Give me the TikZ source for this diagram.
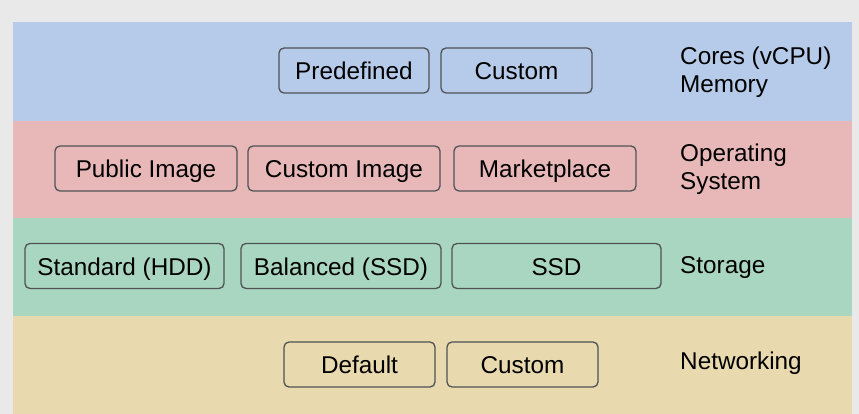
\documentclass[tikz,border=0pt]{standalone}
\usepackage{fontspec}
\setmainfont{Liberation Sans}
\definecolor{bgGray}{HTML}{E9E9E9}
\definecolor{bandBlue}{HTML}{B5CBE9}
\definecolor{bandRed}{HTML}{E8B8B8}
\definecolor{bandGreen}{HTML}{A9D6C0}
\definecolor{bandTan}{HTML}{E9D9AF}
\definecolor{edgeGray}{HTML}{4F5355}
\tikzset{
	opt/.style={draw=edgeGray, line width=1.3pt, rounded corners=5pt, minimum height=45pt, inner sep=0pt, text height=21pt, text depth=2.5pt, font=\fontsize{24.3}{28}\selectfont},
	lbl/.style={anchor=west, align=left, inner sep=0pt, font=\fontsize{24.3}{28}\selectfont},
}
\begin{document}
\begin{tikzpicture}[x=1pt, y=-1pt]
		\fill[bgGray] (0,0) rectangle (859,414);
		\useasboundingbox (0,0) rectangle (859,414);
		% bands
		\fill[bandBlue] (13,22) rectangle (852,121);
		\fill[bandRed] (13,121) rectangle (852,218);
		\fill[bandGreen] (13,218) rectangle (852,316);
		\fill[bandTan] (13,316) rectangle (852,414);
		% machine type
		\node[opt, minimum width=150pt] (P_0_0) at (354,70.5) {Predefined};
		\node[opt, minimum width=151pt] (P_0_1) at (516.5,70.5) {Custom};
		\node[lbl] (L_0) at (680,72) {Cores (vCPU)\\Memory};
		% images
		\node[opt, minimum width=182pt] (P_1_0) at (146,168.5) {Public Image};
		\node[opt, minimum width=192pt] (P_1_1) at (344,168.5) {Custom Image};
		\node[opt, minimum width=182pt] (P_1_2) at (545,168.5) {Marketplace};
		\node[lbl] (L_1) at (680,169) {Operating\\System};
		% disks
		\node[opt, minimum width=199pt] (P_2_0) at (124.5,266) {Standard (HDD)};
		\node[opt, minimum width=200pt] (P_2_1) at (341,266) {Balanced (SSD)};
		\node[opt, minimum width=209pt] (P_2_2) at (556.5,266) {SSD};
		\node[lbl] (L_2) at (680,268) {Storage};
		% network
		\node[opt, minimum width=151pt] (P_3_0) at (359.5,364.5) {Default};
		\node[opt, minimum width=151pt] (P_3_1) at (522.5,364.5) {Custom};
		\node[lbl] (L_3) at (680,363) {Networking};
	\end{tikzpicture}
\end{document}
